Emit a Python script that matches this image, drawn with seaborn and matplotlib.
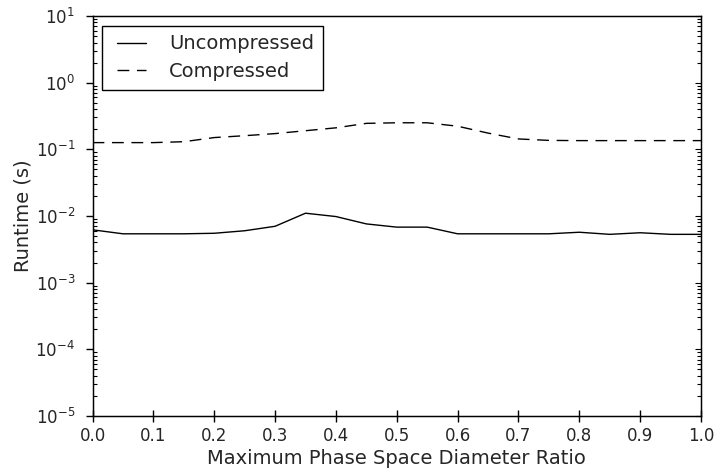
import matplotlib
matplotlib.use("Agg")
import matplotlib.pyplot as plt
from matplotlib.legend_handler import HandlerLine2D
from matplotlib.ticker import LogLocator, NullFormatter
import numpy as np
import pandas as pd
import seaborn as sns

# Ratio of maximum phase-space diameter
ratio = [0.00, 0.05, 0.10, 0.15, 0.20, 0.25, 0.30, 0.35, 0.40, 0.45, 0.50,
         0.55, 0.60, 0.65, 0.70, 0.75, 0.80, 0.85, 0.90, 0.95, 1.00]

# Runtimes in seconds
uncompressed = [0.0062, 0.0054, 0.0054, 0.0054, 0.0055, 0.0060, 0.0070, 0.0110,
                0.0098, 0.0076, 0.0068, 0.0068, 0.0054, 0.0054, 0.0054, 0.0054,
                0.0057, 0.0053, 0.0056, 0.0053, 0.0053]
compressed = [0.126, 0.126, 0.126, 0.130, 0.150, 0.160, 0.172, 0.190, 0.210,
              0.245, 0.250, 0.250, 0.222, 0.175, 0.143, 0.136, 0.135, 0.135,
              0.135, 0.135, 0.135]

series_names = ["Uncompressed", "Compressed"]
x_ticks = [0.0, 0.1, 0.2, 0.3, 0.4, 0.5, 0.6, 0.7, 0.8, 0.9, 1.0]
y_ticks = [1e-5, 1e-4, 1e-3, 1e-2, 1e-1, 1e0, 1e1]

df = pd.DataFrame({
    "ratio": ratio * 2,
    "runtime": uncompressed + compressed,
    "method": [series_names[0]] * len(ratio) + [series_names[1]] * len(ratio),
})


class InsetLineHandler(HandlerLine2D):
    """Legend line that starts a little to the right inside its handle box."""

    def __init__(self, inset=4.0, **kw):
        super().__init__(**kw)
        self.inset = inset

    def get_xdata(self, legend, xdescent, ydescent, width, height, fontsize):
        xdata, xdata_marker = super().get_xdata(legend, xdescent, ydescent,
                                                width, height, fontsize)
        xdata = np.array(xdata, dtype=float)
        xdata[0] += self.inset
        return xdata, xdata_marker


sns.set_style("ticks")
plt.rcParams["font.family"] = ["DejaVu Sans"]
text_color = "#262626"
plt.rcParams["text.color"] = text_color
plt.rcParams["axes.labelcolor"] = text_color
plt.rcParams["xtick.color"] = text_color
plt.rcParams["ytick.color"] = text_color

fig = plt.figure(figsize=(7.14, 4.70), dpi=100)
ax = fig.add_axes([0.1296, 0.115, 0.8522, 0.851])

sns.lineplot(
    data=df, x="ratio", y="runtime", style="method",
    style_order=series_names,
    dashes={"Uncompressed": "", "Compressed": (8.5, 5.5)},
    color="black", linewidth=1.0, ax=ax, legend=False,
)

ax.set_yscale("log")
ax.set_xlim(0, 1.0)
ax.set_ylim(1e-5, 1e1)
ax.set_xticks(x_ticks)
ax.set_xticklabels([f"{v:.1f}" for v in x_ticks])
ax.set_yticks(y_ticks)
ax.yaxis.set_minor_locator(LogLocator(base=10, subs=np.arange(2, 10)))
ax.yaxis.set_minor_formatter(NullFormatter())

for side in ["left", "right", "top", "bottom"]:
    ax.spines[side].set_visible(True)
    ax.spines[side].set_color("black")
    ax.spines[side].set_linewidth(1.0)

ax.tick_params(axis="x", which="major", direction="inout", length=8, width=1.0,
               labelsize=12, top=False, bottom=True, pad=4, color="black")
ax.tick_params(axis="x", which="minor", bottom=False, top=False)
ax.tick_params(axis="y", which="major", direction="out", length=5, width=1.0,
               labelsize=12, left=True, right=False, pad=7.5, color="black")
ax.tick_params(axis="y", which="minor", direction="in", length=3, width=0.8,
               left=True, right=False, color="black")

# Inward ticks along the right spine
ax_r = ax.twinx()
ax_r.set_yscale("log")
ax_r.set_ylim(ax.get_ylim())
ax_r.set_yticks(y_ticks)
ax_r.yaxis.set_minor_locator(LogLocator(base=10, subs=np.arange(2, 10)))
ax_r.yaxis.set_minor_formatter(NullFormatter())
ax_r.tick_params(axis="y", which="both", direction="in", length=3, width=0.8,
                 right=True, labelright=False, color="black")
ax_r.tick_params(axis="y", which="major", length=4)
for side in ["left", "right", "top", "bottom"]:
    ax_r.spines[side].set_color("black")

ax.set_xlabel("Maximum Phase Space Diameter Ratio", fontsize=14, labelpad=3)
ax.set_ylabel("Runtime (s)", fontsize=14, labelpad=2)

handles = ax.get_lines()[:2]
leg = ax.legend(handles, series_names, loc="upper left", fontsize=14,
                frameon=True, fancybox=False, framealpha=1.0,
                edgecolor="black", handlelength=1.78, handletextpad=1.2,
                borderpad=0.45, labelspacing=0.45, borderaxespad=0.5,
                handler_map={h: InsetLineHandler(inset=4.0) for h in handles})
leg.get_frame().set_linewidth(1.0)

fig.savefig("out.png", dpi=100)
